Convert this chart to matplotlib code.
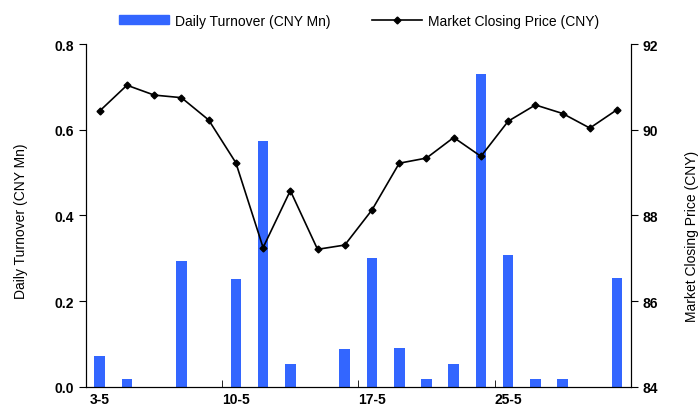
import numpy as np
import matplotlib.pyplot as plt
from matplotlib.lines import Line2D
from matplotlib.patches import Patch

plt.rcParams['font.family'] = ['Liberation Sans', 'DejaVu Sans']

dates = ['3-5', '4-5', '5-5', '6-5', '7-5', '10-5', '11-5', '12-5', '13-5', '14-5',
         '17-5', '18-5', '19-5', '20-5', '21-5', '25-5', '26-5', '27-5', '28-5', '31-5']
turnover = [0.072, 0.018, 0.0, 0.293, 0.0, 0.252, 0.575, 0.053, 0.0, 0.088,
            0.300, 0.090, 0.018, 0.053, 0.730, 0.307, 0.018, 0.018, 0.0, 0.253]
price = [90.44, 91.04, 90.81, 90.75, 90.23, 89.23, 87.25, 88.58, 87.21, 87.31,
         88.13, 89.22, 89.34, 89.82, 89.38, 90.20, 90.58, 90.38, 90.04, 90.47]
label_every = 5

blue = '#3366FF'
x = np.arange(len(dates))

fig = plt.figure(figsize=(7, 4.1), dpi=100)
ax = fig.add_axes([0.123, 0.054, 0.778, 0.836])
ax.bar(x, turnover, width=0.39, color=blue, zorder=2)
ax.set_xlim(-0.5, len(dates) - 0.5)
ax.set_ylim(0, 0.8)
ax.set_yticks([0, 0.2, 0.4, 0.6, 0.8])
ax.set_yticklabels(['0.0', '0.2', '0.4', '0.6', '0.8'], fontweight='bold', fontsize=10)
ax.set_ylabel('Daily Turnover (CNY Mn)', fontsize=10)
ax.yaxis.set_label_coords(-0.107, 0.487)

# labels under categories (major, no mark), tick marks between groups (minor)
ax.set_xticks(x[::label_every])
ax.set_xticklabels([dates[i] for i in x[::label_every]], fontsize=10, fontweight='bold')
ax.set_xticks(np.arange(label_every - 0.5, len(dates) - 1, label_every), minor=True)
ax.tick_params(axis='x', which='minor', direction='in', length=5)
ax.tick_params(axis='x', which='major', length=0, pad=4)
ax.tick_params(axis='y', direction='out', length=5)
ax.spines['top'].set_visible(False)

ax2 = ax.twinx()
ax2.plot(x, price, color='black', lw=1.2, marker='D', markersize=3.5, zorder=3)
ax2.set_ylim(84, 92)
ax2.set_yticks([84, 86, 88, 90, 92])
ax2.set_yticklabels(['84', '86', '88', '90', '92'], fontweight='bold', fontsize=10)
ax2.tick_params(axis='y', direction='out', length=5)
ax2.spines['top'].set_visible(False)
ax2.set_ylabel('Market Closing Price (CNY)', fontsize=10, rotation=90)
ax2.yaxis.set_label_coords(1.100, 0.443)

handles = [Patch(color=blue),
           Line2D([0], [0], color='black', lw=1.2, marker='D', markersize=3.5)]
fig.legend(handles, ['Daily Turnover (CNY Mn)', 'Market Closing Price (CNY)'],
           loc='center', bbox_to_anchor=(0.513, 0.947), ncol=2, frameon=False,
           fontsize=10, handlelength=3.6, handleheight=0.6, columnspacing=3.0,
           handletextpad=0.4)

fig.savefig('out.png', dpi=100)
